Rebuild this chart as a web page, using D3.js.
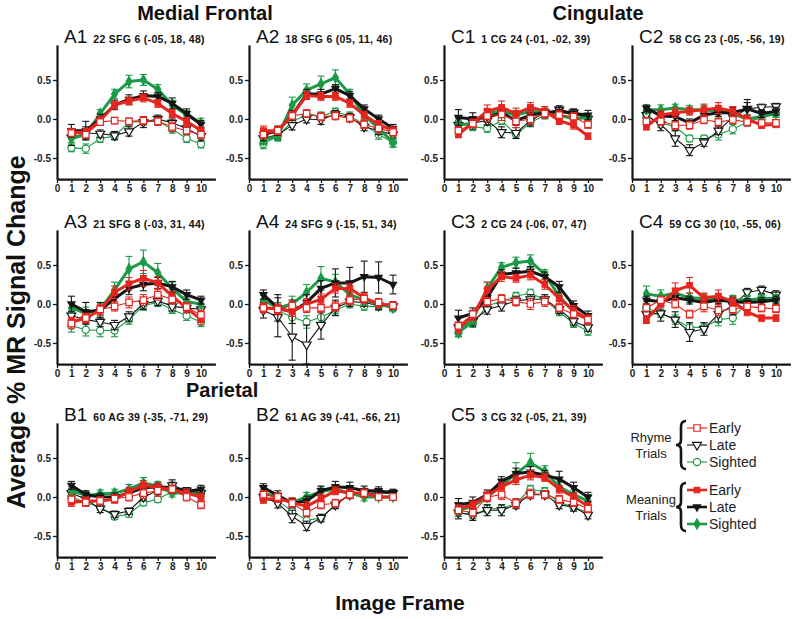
<!DOCTYPE html>
<html><head><meta charset="utf-8">
<script src="https://cdn.jsdelivr.net/npm/d3@7"></script>
<style>body{margin:0;background:#fff} svg{display:block}</style>
</head><body>
<svg id="chart" width="800" height="619"></svg>
<script>
// ---------- DATA ----------
const frames = [1,2,3,4,5,6,7,8,9,10];
const xTicks = [0,1,2,3,4,5,6,7,8,9,10];
const yTicks = [-0.5, 0, 0.5];
const yTickLabels = ["-0.5", "0.0", "0.5"];
const seriesNames = ["Rhyme Early","Rhyme Late","Rhyme Sighted","Meaning Early","Meaning Late","Meaning Sighted"];
const legendLabels = ["Early","Late","Sighted"];
const groupLabels = [["Rhyme","Trials"],["Meaning","Trials"]];
const sectionTitles = ["Medial Frontal","Cingulate","Parietal"];
const panelIds = ["A1","A2","C1","C2","A3","A4","C3","C4","B1","B2","C5"];
const panelLabels = ["22 SFG 6 (-05, 18, 48)","18 SFG 6 (05, 11, 46)","1 CG 24 (-01, -02, 39)","58 CG 23 (-05, -56, 19)",
  "21 SFG 8 (-03, 31, 44)","24 SFG 9 (-15, 51, 34)","2 CG 24 (-06, 07, 47)","59 CG 30 (10, -55, 06)",
  "60 AG 39 (-35, -71, 29)","61 AG 39 (-41, -66, 21)","3 CG 32 (-05, 21, 39)"];

// rows: Rhyme Early, Rhyme Late, Rhyme Sighted, Meaning Early, Meaning Late, Meaning Sighted
const A1_vals = [
 [-0.18,-0.20,-0.04,-0.02,-0.03,-0.02,-0.03,-0.10,-0.15,-0.20],
 [-0.24,-0.18,-0.19,-0.21,-0.16,-0.04,0.00,-0.05,-0.12,-0.22],
 [-0.37,-0.38,-0.25,-0.22,-0.04,-0.03,-0.03,-0.13,-0.25,-0.32],
 [-0.17,-0.17,-0.02,0.18,0.23,0.27,0.20,0.07,-0.03,-0.15],
 [-0.15,-0.15,0.00,0.18,0.25,0.30,0.29,0.20,0.07,-0.07],
 [-0.25,-0.20,0.07,0.32,0.48,0.50,0.38,0.18,0.05,-0.05]];
const A1_err = [
 [0.04,0.04,0.04,0.04,0.04,0.05,0.05,0.06,0.05,0.05],
 [0.10,0.08,0.05,0.05,0.06,0.07,0.05,0.05,0.06,0.06],
 [0.05,0.06,0.05,0.05,0.05,0.05,0.05,0.05,0.05,0.05],
 [0.05,0.05,0.05,0.05,0.05,0.05,0.05,0.05,0.05,0.05],
 [0.08,0.12,0.06,0.06,0.06,0.06,0.05,0.07,0.06,0.05],
 [0.05,0.05,0.05,0.06,0.08,0.07,0.06,0.06,0.06,0.06]];

const A2_vals = [
 [-0.20,-0.15,0.04,0.07,0.03,0.04,0.01,-0.07,-0.12,-0.17],
 [-0.25,-0.20,-0.08,0.00,-0.01,0.06,0.02,-0.10,-0.15,-0.20],
 [-0.32,-0.22,-0.03,0.05,0.04,0.09,0.04,-0.07,-0.20,-0.30],
 [-0.15,-0.15,0.05,0.30,0.29,0.29,0.20,0.05,-0.07,-0.15],
 [-0.20,-0.15,0.05,0.32,0.32,0.39,0.30,0.13,0.00,-0.12],
 [-0.27,-0.22,0.18,0.37,0.45,0.53,0.32,0.05,-0.12,-0.30]];
const A2_err = [
 [0.05,0.05,0.05,0.05,0.05,0.05,0.05,0.05,0.05,0.05],
 [0.07,0.06,0.06,0.05,0.06,0.05,0.05,0.05,0.05,0.05],
 [0.06,0.06,0.05,0.05,0.05,0.05,0.05,0.05,0.06,0.06],
 [0.06,0.05,0.05,0.05,0.05,0.05,0.05,0.05,0.05,0.05],
 [0.08,0.06,0.06,0.06,0.06,0.05,0.05,0.05,0.05,0.05],
 [0.06,0.06,0.10,0.08,0.10,0.10,0.06,0.06,0.06,0.06]];

const C1_vals = [
 [-0.15,-0.06,0.04,0.06,-0.03,0.00,0.07,0.05,0.03,-0.07],
 [-0.08,-0.05,-0.02,-0.17,-0.18,-0.02,0.08,0.12,0.08,0.00],
 [-0.05,-0.10,-0.12,-0.02,-0.20,-0.05,0.05,0.10,0.05,0.02],
 [-0.20,-0.05,0.10,0.15,0.07,0.15,0.10,-0.02,-0.08,-0.22],
 [0.02,0.00,0.02,0.08,-0.02,0.05,0.08,0.10,0.07,0.05],
 [-0.08,-0.05,0.07,0.10,0.05,0.10,0.08,0.05,0.00,0.02]];
const C1_err = [
 [0.05,0.05,0.08,0.08,0.08,0.07,0.06,0.06,0.05,0.05],
 [0.10,0.08,0.06,0.07,0.07,0.07,0.05,0.05,0.05,0.07],
 [0.05,0.05,0.05,0.05,0.05,0.05,0.05,0.05,0.05,0.05],
 [0.04,0.05,0.08,0.08,0.07,0.06,0.06,0.05,0.05,0.04],
 [0.10,0.08,0.06,0.06,0.06,0.06,0.05,0.05,0.05,0.06],
 [0.05,0.05,0.06,0.06,0.06,0.07,0.06,0.05,0.05,0.05]];

const C2_vals = [
 [-0.03,-0.03,-0.08,-0.08,-0.01,-0.04,-0.01,-0.04,-0.05,-0.05],
 [0.05,-0.07,-0.25,-0.40,-0.30,-0.15,0.02,0.13,0.15,0.16],
 [0.03,-0.05,-0.10,-0.25,-0.25,-0.20,-0.13,-0.04,0.02,0.07],
 [-0.10,0.05,0.08,0.10,0.12,0.14,0.10,0.00,-0.08,-0.07],
 [0.14,0.04,0.03,-0.05,0.05,0.08,0.08,0.13,0.07,0.10],
 [0.12,0.12,0.14,0.12,0.12,0.10,0.07,0.00,0.03,0.07]];
const C2_err = [
 [0.05,0.05,0.05,0.05,0.05,0.05,0.05,0.05,0.04,0.04],
 [0.05,0.08,0.10,0.07,0.05,0.05,0.06,0.08,0.04,0.04],
 [0.05,0.06,0.05,0.04,0.04,0.07,0.06,0.05,0.05,0.05],
 [0.04,0.06,0.06,0.05,0.07,0.07,0.06,0.05,0.04,0.04],
 [0.04,0.05,0.05,0.05,0.05,0.05,0.07,0.12,0.05,0.05],
 [0.05,0.06,0.05,0.05,0.05,0.05,0.05,0.05,0.05,0.05]];

const A3_vals = [
 [-0.25,-0.18,-0.07,-0.03,0.02,0.05,0.12,0.06,-0.04,-0.14],
 [-0.15,-0.20,-0.23,-0.27,-0.16,0.00,0.04,-0.03,-0.05,-0.07],
 [-0.28,-0.33,-0.34,-0.34,-0.20,-0.02,0.02,-0.07,-0.15,-0.23],
 [-0.23,-0.18,-0.08,0.15,0.26,0.33,0.27,0.10,-0.05,-0.20],
 [0.00,-0.10,-0.08,0.07,0.20,0.25,0.27,0.22,0.12,0.05],
 [-0.05,-0.12,-0.07,0.18,0.45,0.54,0.40,0.20,0.03,0.00]];
const A3_err = [
 [0.06,0.06,0.06,0.06,0.07,0.07,0.07,0.06,0.06,0.06],
 [0.06,0.06,0.06,0.06,0.06,0.07,0.06,0.06,0.06,0.06],
 [0.08,0.08,0.08,0.08,0.06,0.06,0.05,0.05,0.06,0.06],
 [0.06,0.06,0.06,0.08,0.08,0.10,0.08,0.06,0.06,0.06],
 [0.10,0.12,0.10,0.07,0.08,0.08,0.07,0.07,0.06,0.05],
 [0.06,0.08,0.08,0.10,0.16,0.15,0.12,0.08,0.06,0.06]];

const A4_vals = [
 [-0.05,-0.07,-0.02,-0.05,-0.05,-0.03,0.05,0.07,0.02,-0.02],
 [-0.08,-0.17,-0.42,-0.52,-0.27,-0.05,0.03,0.02,-0.02,-0.03],
 [-0.03,-0.08,-0.17,-0.23,-0.17,-0.08,0.00,-0.03,-0.03,-0.03],
 [-0.05,-0.06,-0.10,0.00,0.06,0.20,0.20,0.08,0.00,-0.02],
 [0.12,-0.05,-0.10,0.02,0.20,0.27,0.27,0.35,0.34,0.25],
 [0.05,-0.05,0.00,0.15,0.33,0.28,0.12,0.05,0.00,-0.05]];
const A4_err = [
 [0.06,0.06,0.06,0.06,0.06,0.06,0.06,0.06,0.05,0.05],
 [0.10,0.25,0.30,0.25,0.18,0.10,0.06,0.05,0.05,0.05],
 [0.06,0.06,0.08,0.08,0.06,0.06,0.05,0.05,0.05,0.05],
 [0.06,0.06,0.06,0.07,0.07,0.06,0.06,0.06,0.05,0.05],
 [0.06,0.17,0.15,0.10,0.10,0.18,0.20,0.20,0.20,0.12],
 [0.06,0.07,0.10,0.10,0.15,0.10,0.08,0.06,0.05,0.05]];

const C3_vals = [
 [-0.28,-0.13,0.03,0.07,0.03,0.00,0.03,-0.05,-0.13,-0.20],
 [-0.30,-0.22,-0.07,-0.02,0.04,0.06,0.06,-0.07,-0.22,-0.30],
 [-0.37,-0.25,-0.02,0.03,0.10,0.14,0.05,-0.10,-0.25,-0.35],
 [-0.32,-0.15,0.18,0.35,0.33,0.37,0.25,0.07,-0.08,-0.20],
 [-0.18,-0.12,0.08,0.38,0.40,0.42,0.35,0.22,-0.02,-0.15],
 [-0.37,-0.20,0.20,0.47,0.53,0.55,0.38,0.10,-0.10,-0.20]];
const C3_err = [
 [0.05,0.05,0.05,0.05,0.05,0.07,0.06,0.05,0.05,0.05],
 [0.06,0.06,0.06,0.07,0.06,0.06,0.06,0.05,0.05,0.05],
 [0.05,0.05,0.05,0.05,0.05,0.05,0.05,0.05,0.05,0.05],
 [0.06,0.06,0.10,0.06,0.05,0.06,0.06,0.06,0.06,0.06],
 [0.10,0.07,0.07,0.06,0.06,0.06,0.06,0.07,0.06,0.06],
 [0.05,0.06,0.08,0.06,0.07,0.08,0.06,0.06,0.06,0.06]];

const C4_vals = [
 [-0.05,0.05,0.00,-0.13,-0.03,-0.08,-0.07,-0.03,-0.05,-0.06],
 [-0.13,-0.12,-0.20,-0.36,-0.32,-0.13,-0.02,0.15,0.18,0.12],
 [-0.05,-0.12,-0.20,-0.30,-0.30,-0.20,-0.18,0.02,0.08,0.05],
 [-0.20,0.00,0.17,0.24,0.08,0.10,0.03,-0.10,-0.18,-0.18],
 [0.05,0.03,0.08,0.05,0.02,0.05,0.03,0.02,0.03,0.05],
 [0.13,0.10,0.14,0.08,0.07,0.07,0.05,0.05,0.07,0.07]];
const C4_err = [
 [0.05,0.05,0.05,0.05,0.07,0.07,0.05,0.05,0.05,0.05],
 [0.05,0.10,0.10,0.12,0.08,0.10,0.12,0.05,0.05,0.05],
 [0.05,0.05,0.06,0.06,0.06,0.08,0.08,0.05,0.05,0.05],
 [0.05,0.05,0.10,0.10,0.06,0.08,0.06,0.05,0.04,0.04],
 [0.05,0.05,0.05,0.05,0.05,0.05,0.05,0.05,0.05,0.05],
 [0.10,0.08,0.06,0.06,0.06,0.06,0.06,0.06,0.05,0.05]];

const B1_vals = [
 [-0.03,-0.07,-0.05,-0.02,0.00,0.05,0.08,0.10,0.00,-0.10],
 [0.05,-0.03,-0.15,-0.22,-0.18,0.00,0.08,0.15,0.08,0.05],
 [0.00,-0.07,-0.13,-0.25,-0.22,-0.07,-0.03,0.07,0.05,0.05],
 [-0.07,-0.05,-0.05,-0.03,0.07,0.15,0.12,0.10,0.05,0.00],
 [0.15,0.03,0.00,0.00,0.05,0.12,0.13,0.12,0.07,0.10],
 [0.08,0.02,0.04,0.05,0.10,0.18,0.14,0.05,0.05,0.03]];
const B1_err = [
 [0.05,0.05,0.05,0.05,0.05,0.07,0.07,0.05,0.05,0.05],
 [0.05,0.05,0.05,0.04,0.04,0.05,0.05,0.07,0.04,0.04],
 [0.04,0.04,0.04,0.04,0.04,0.04,0.04,0.04,0.04,0.04],
 [0.05,0.05,0.05,0.05,0.05,0.06,0.06,0.05,0.05,0.05],
 [0.05,0.05,0.05,0.05,0.05,0.05,0.05,0.07,0.05,0.05],
 [0.05,0.05,0.05,0.05,0.06,0.07,0.06,0.05,0.05,0.05]];

const B2_vals = [
 [0.03,0.00,-0.08,-0.20,-0.10,-0.08,0.03,0.05,0.00,0.00],
 [0.00,-0.08,-0.25,-0.37,-0.27,-0.10,0.03,0.05,0.05,0.05],
 [-0.03,-0.05,-0.18,-0.30,-0.27,-0.10,0.03,0.07,0.00,0.00],
 [-0.03,-0.02,-0.07,-0.12,-0.02,0.08,0.05,0.05,0.00,0.00],
 [0.12,0.02,-0.08,-0.05,0.08,0.13,0.12,0.08,0.08,0.05],
 [0.05,0.00,-0.07,0.00,0.07,0.10,0.05,0.00,0.00,0.00]];
const B2_err = [
 [0.05,0.05,0.05,0.05,0.05,0.05,0.05,0.05,0.04,0.04],
 [0.05,0.06,0.08,0.06,0.05,0.05,0.05,0.05,0.04,0.04],
 [0.04,0.04,0.05,0.05,0.04,0.04,0.04,0.04,0.04,0.04],
 [0.05,0.05,0.06,0.06,0.06,0.05,0.05,0.05,0.04,0.04],
 [0.05,0.06,0.06,0.06,0.06,0.07,0.07,0.06,0.05,0.05],
 [0.05,0.05,0.05,0.06,0.06,0.06,0.05,0.05,0.04,0.04]];

const C5_vals = [
 [-0.17,-0.20,0.00,0.03,-0.08,0.04,0.03,-0.03,-0.07,-0.15],
 [-0.20,-0.23,-0.17,-0.17,-0.10,0.03,0.03,-0.10,-0.13,-0.23],
 [-0.20,-0.23,-0.15,-0.15,-0.08,0.10,0.07,-0.07,-0.13,-0.20],
 [-0.15,-0.10,0.02,0.13,0.22,0.28,0.25,0.10,0.00,-0.12],
 [-0.10,-0.07,0.03,0.20,0.30,0.32,0.28,0.23,0.12,0.00],
 [-0.17,-0.12,0.00,0.15,0.30,0.44,0.33,0.13,0.03,-0.05]];
const C5_err = [
 [0.05,0.05,0.06,0.06,0.06,0.06,0.05,0.05,0.05,0.05],
 [0.08,0.07,0.07,0.07,0.05,0.05,0.05,0.05,0.05,0.05],
 [0.05,0.05,0.05,0.05,0.05,0.05,0.05,0.05,0.05,0.05],
 [0.05,0.05,0.06,0.06,0.06,0.06,0.05,0.05,0.05,0.05],
 [0.08,0.07,0.06,0.06,0.07,0.07,0.06,0.10,0.07,0.06],
 [0.05,0.06,0.06,0.08,0.14,0.12,0.07,0.06,0.06,0.06]];

const panelVals = [A1_vals,A2_vals,C1_vals,C2_vals,A3_vals,A4_vals,C3_vals,C4_vals,B1_vals,B2_vals,C5_vals];
const panelErrs = [A1_err,A2_err,C1_err,C2_err,A3_err,A4_err,C3_err,C4_err,B1_err,B2_err,C5_err];
const panelGrid = [[0,0],[1,0],[2,0],[3,0],[0,1],[1,1],[2,1],[3,1],[0,2],[1,2],[2,2]];

// ---------- DRAW ----------
const RED = "#e5261f", GREEN = "#1c9a47", BLACK = "#151515";
const styles = [
  {color:RED,   width:1.1, sym:d3.symbolSquare,   rot:0,   fill:"#fff", size:42},
  {color:BLACK, width:1.1, sym:d3.symbolTriangle, rot:180, fill:"#fff", size:34},
  {color:GREEN, width:1.1, sym:d3.symbolCircle,   rot:0,   fill:"#fff", size:40},
  {color:RED,   width:3,   sym:d3.symbolSquare,   rot:0,   fill:RED,    size:30},
  {color:BLACK, width:3,   sym:d3.symbolTriangle, rot:180, fill:BLACK,  size:22},
  {color:GREEN, width:3,   sym:d3.symbolDiamond,  rot:0,   fill:GREEN,  size:30}
];
const drawOrder = [2,1,5,4,3,0];
const SANS = "'Liberation Sans', Arial, Helvetica, sans-serif";
const NARROW = "'Liberation Sans Narrow', 'Arial Narrow', 'Liberation Sans', Arial, sans-serif";

const svg = d3.select("#chart");
svg.append("rect").attr("width",800).attr("height",619).attr("fill","#fff");

const colX = [57, 249, 444, 632];
const rowZero = [119, 304, 497];
const PX = 78;
const yDom = [-0.77, 0.95];
const xDom = [0, 11];
const xStep = 14.4;

function drawPanel(i){
  const [c, r] = panelGrid[i];
  const x0 = colX[c], z = rowZero[r];
  const x = d3.scaleLinear().domain(xDom).range([x0, x0 + xStep*xDom[1]]);
  const y = d3.scaleLinear().domain(yDom).range([z - yDom[0]*PX, z - yDom[1]*PX]);
  const g = svg.append("g");

  const xa = g.append("g").attr("transform",`translate(0,${y(yDom[0])})`)
    .call(d3.axisBottom(x).tickValues(xTicks).tickFormat(d=>d).tickSize(4).tickSizeOuter(0).tickPadding(2));
  const ya = g.append("g").attr("transform",`translate(${x0},0)`)
    .call(d3.axisLeft(y).tickValues(yTicks).tickFormat((d,k)=>yTickLabels[k]).tickSize(4).tickSizeOuter(0).tickPadding(2));
  [xa, ya].forEach(a=>{
    a.select(".domain").attr("stroke",BLACK).attr("stroke-width",2.2);
    a.selectAll(".tick line").attr("stroke",BLACK).attr("stroke-width",1.3);
    a.selectAll(".tick text").attr("fill","#222").style("font-family",NARROW).style("font-size","10px").style("font-weight","bold");
  });

  // title
  const t = g.append("text").attr("x", x0 + 7).attr("y", y(yDom[1]) - 2).attr("fill","#111");
  t.append("tspan").text(panelIds[i]).style("font-family",SANS).style("font-size","19px");
  t.append("tspan").attr("dx",6).text(panelLabels[i]).style("font-family",SANS).style("font-size","10.5px").style("font-weight","bold").style("letter-spacing","0.3px");

  const vals = panelVals[i], errs = panelErrs[i];
  drawOrder.forEach(s=>{
    const st = styles[s];
    const pts = frames.map((f,k)=>({f, v:vals[s][k], e:errs[s][k]}));
    const sg = g.append("g");
    // error bars
    pts.forEach(p=>{
      const px = x(p.f), yt = y(p.v + p.e), yb = y(p.v - p.e);
      sg.append("line").attr("x1",px).attr("x2",px).attr("y1",yt).attr("y2",yb).attr("stroke",st.color).attr("stroke-width",1.1);
      sg.append("line").attr("x1",px-3.5).attr("x2",px+3.5).attr("y1",yt).attr("y2",yt).attr("stroke",st.color).attr("stroke-width",1.1);
      sg.append("line").attr("x1",px-3.5).attr("x2",px+3.5).attr("y1",yb).attr("y2",yb).attr("stroke",st.color).attr("stroke-width",1.1);
    });
    sg.append("path").datum(pts)
      .attr("d", d3.line().x(p=>x(p.f)).y(p=>y(p.v)))
      .attr("fill","none").attr("stroke",st.color).attr("stroke-width",st.width).attr("stroke-linejoin","round");
    const sym = d3.symbol().type(st.sym).size(st.size);
    sg.selectAll("path.m").data(pts).enter().append("path").attr("class","m")
      .attr("d", sym)
      .attr("transform", p=>`translate(${x(p.f)},${y(p.v)}) rotate(${st.rot})`)
      .attr("fill", st.fill).attr("stroke", st.color).attr("stroke-width", 1.2);
  });
}
panelIds.forEach((_, i) => drawPanel(i));

// section titles
svg.append("text").attr("x",205).attr("y",20).attr("text-anchor","middle").text(sectionTitles[0])
  .style("font-family",SANS).style("font-size","20px").style("font-weight","bold").attr("fill","#111");
svg.append("text").attr("x",598).attr("y",20).attr("text-anchor","middle").text(sectionTitles[1])
  .style("font-family",SANS).style("font-size","20px").style("font-weight","bold").attr("fill","#111");
svg.append("text").attr("x",186).attr("y",397).text(sectionTitles[2])
  .style("font-family",SANS).style("font-size","20px").style("font-weight","bold").attr("fill","#111");

// axis titles
svg.append("text").attr("transform","translate(25,332) rotate(-90)").attr("text-anchor","middle")
  .text("Average % MR Signal Change").style("font-family",SANS).style("font-size","25px").style("font-weight","bold").attr("fill","#111");
svg.append("text").attr("x",400).attr("y",610).attr("text-anchor","middle")
  .text("Image Frame").style("font-family",SANS).style("font-size","21px").style("font-weight","bold").attr("fill","#111");

// legend
const lg = svg.append("g");
const legendRows = [[428,445,462],[490,507,524]];
function brace(xb, y1, y2){
  const m = (y1+y2)/2;
  return `M${xb+5},${y1} Q${xb},${y1} ${xb},${y1+6} L${xb},${m-5} Q${xb},${m} ${xb-5},${m} Q${xb},${m} ${xb},${m+5} L${xb},${y2-6} Q${xb},${y2} ${xb+5},${y2}`;
}
[0,1].forEach(gi=>{
  const rows = legendRows[gi];
  lg.append("path").attr("d", brace(681, rows[0]-7, rows[2]+7)).attr("fill","none").attr("stroke",BLACK).attr("stroke-width",2.6);
  const mid = (rows[0]+rows[2])/2;
  lg.append("text").attr("x",651).attr("y",mid-3).attr("text-anchor","middle").text(groupLabels[gi][0])
    .style("font-family",NARROW).style("font-size","13px").attr("fill","#222");
  lg.append("text").attr("x",651).attr("y",mid+13).attr("text-anchor","middle").text(groupLabels[gi][1])
    .style("font-family",NARROW).style("font-size","13px").attr("fill","#222");
  [0,1,2].forEach(k=>{
    const st = styles[gi*3+k], yy = rows[k];
    lg.append("line").attr("x1",687).attr("x2",707).attr("y1",yy).attr("y2",yy).attr("stroke",st.color).attr("stroke-width",gi? 2.6 : 1.1);
    lg.append("path").attr("d", d3.symbol().type(st.sym).size(st.size)())
      .attr("transform",`translate(697,${yy}) rotate(${st.rot})`).attr("fill",st.fill).attr("stroke",st.color).attr("stroke-width",1.2);
    lg.append("text").attr("x",709).attr("y",yy+4.5).text(legendLabels[k])
      .style("font-family",NARROW).style("font-size","14px").attr("fill","#222");
  });
});
</script>
</body></html>
